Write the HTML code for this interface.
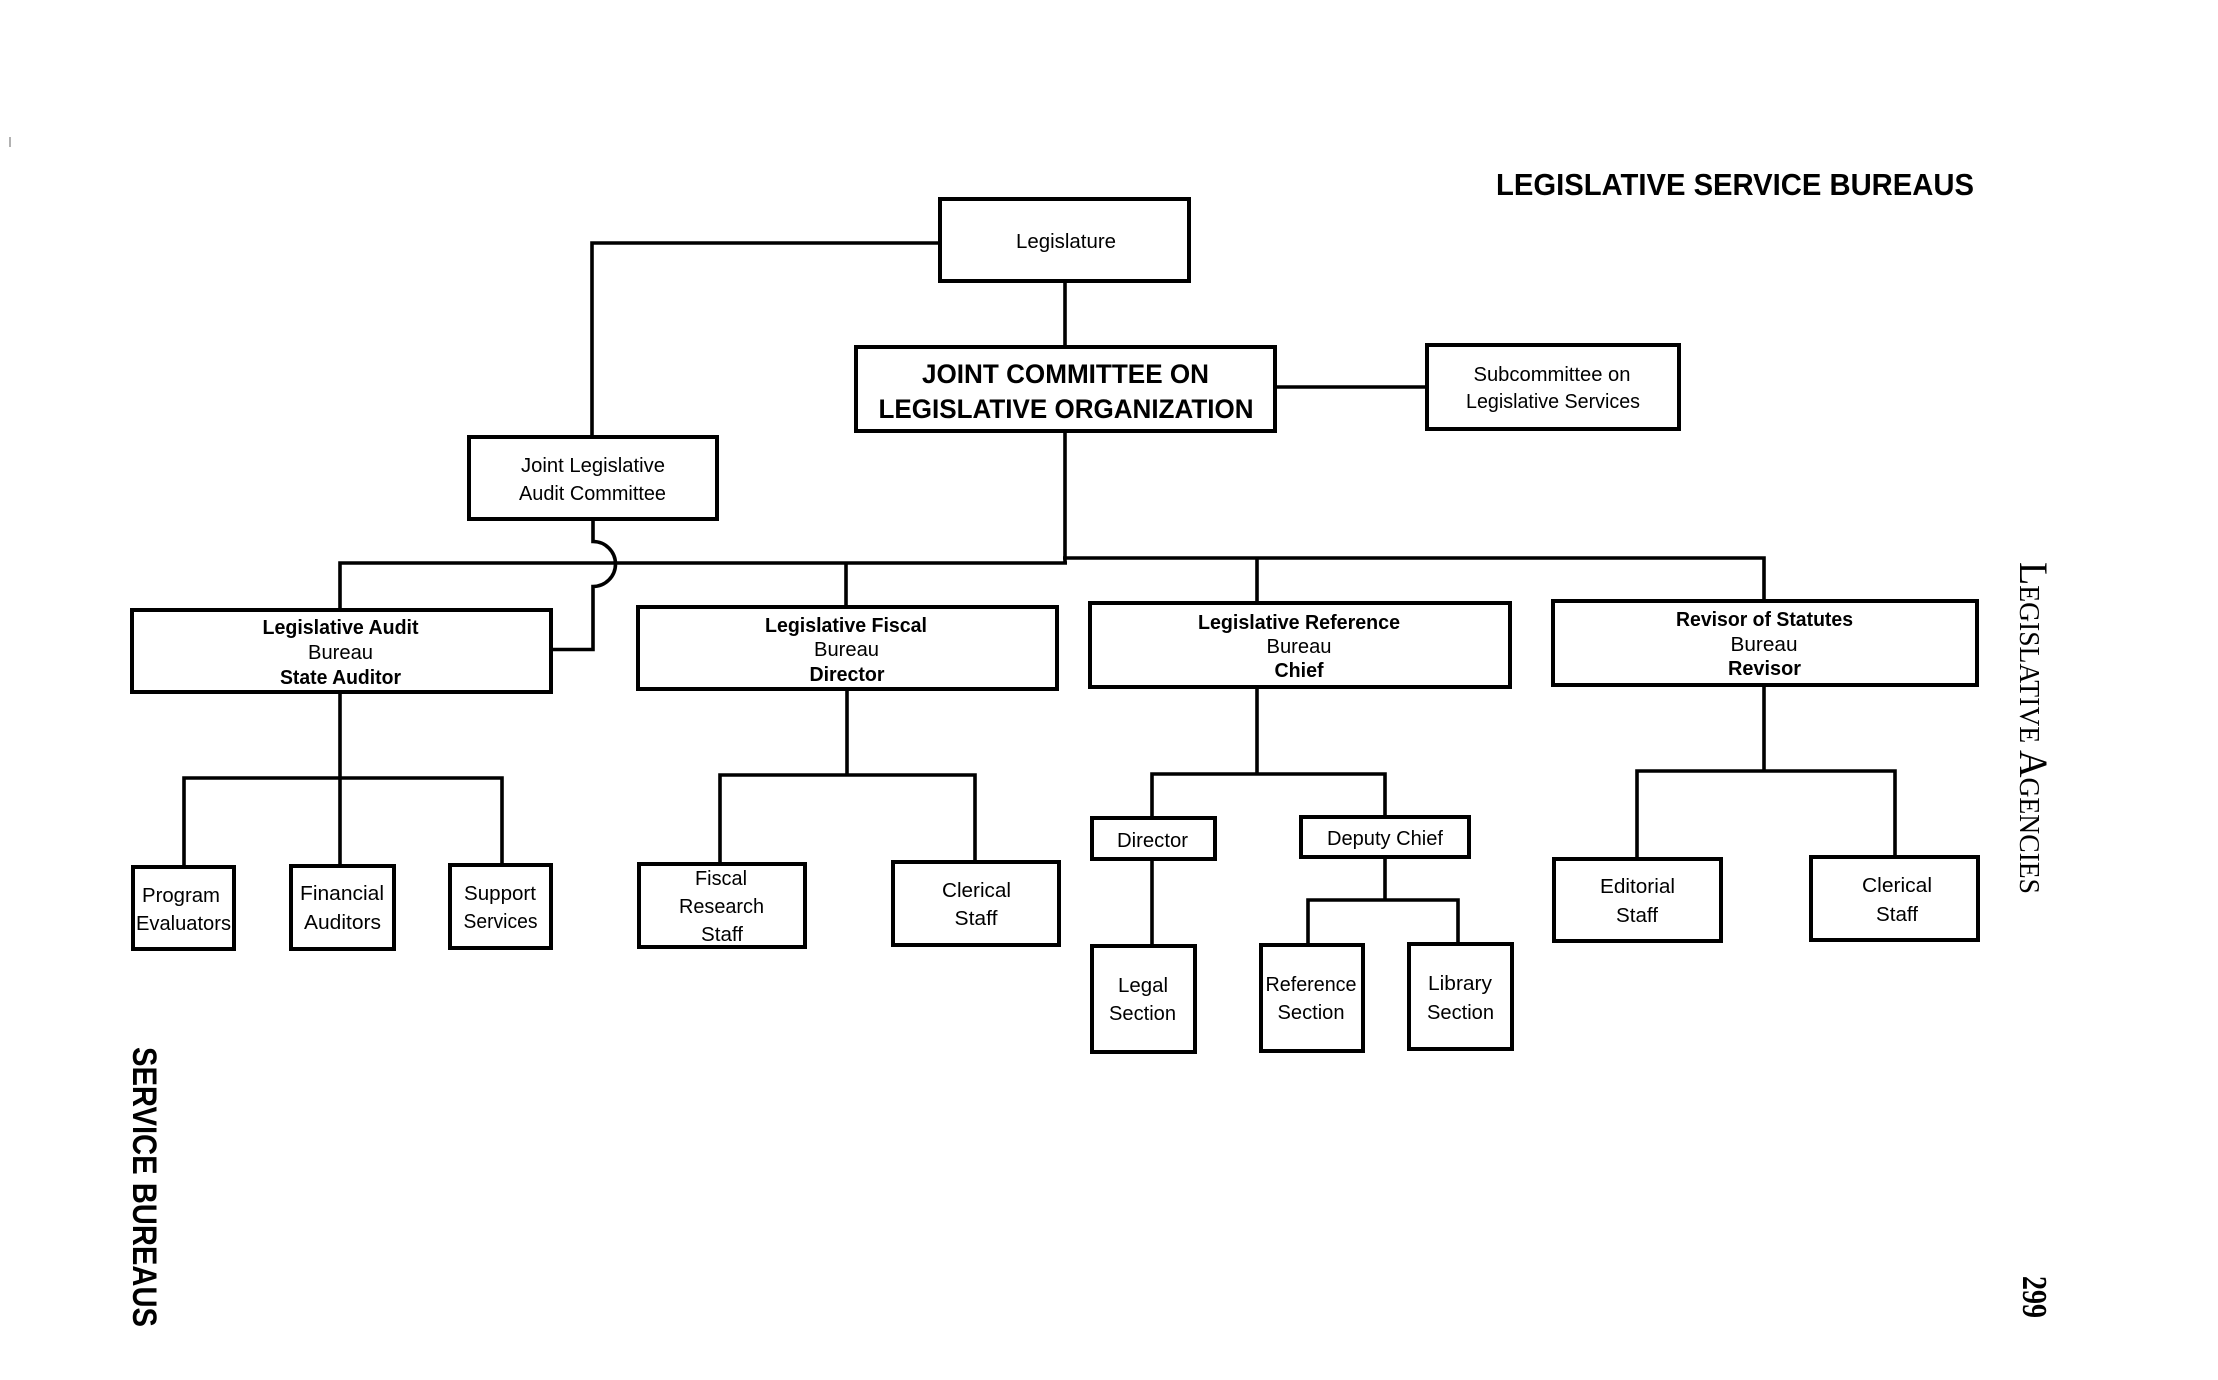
<!DOCTYPE html>
<html>
<head>
<meta charset="utf-8">
<style>
  html, body { margin: 0; padding: 0; background: #ffffff; }
  body { width: 2218px; height: 1380px; overflow: hidden; }
  svg { display: block; }
  text { font-family: "Liberation Sans", Arial, sans-serif; fill: #000; }
  .r { font-size: 20px; }
  .b { font-size: 20px; font-weight: bold; }
  .serif { font-family: "Liberation Serif", "Times New Roman", serif; }
</style>
</head>
<body>
<svg width="2218" height="1380" viewBox="0 0 2218 1380" xmlns="http://www.w3.org/2000/svg">
  <rect x="0" y="0" width="2218" height="1380" fill="#ffffff"/>

  <!-- connectors -->
  <g fill="none" stroke="#000" stroke-width="3.6" stroke-linejoin="miter" stroke-linecap="butt">
    <path d="M1065 283 V347"/>
    <path d="M940 243 H592 V437"/>
    <path d="M1277 387 H1427"/>
    <path d="M593 521 V541.5 A22.5 22.5 0 0 1 593 586.5 V649.5 H551"/>
    <path d="M340 610 V563 H1067"/>
    <path d="M1065 433 V563"/>
    <path d="M1063 558 H1764 V601"/>
    <path d="M846 563 V607"/>
    <path d="M1257 558 V603"/>
    <!-- audit subtree -->
    <path d="M340 692 V866"/>
    <path d="M184 867 V778 H502 V865"/>
    <!-- fiscal subtree -->
    <path d="M847 689 V775"/>
    <path d="M720 864 V775 H975 V862"/>
    <!-- reference subtree -->
    <path d="M1257 687 V774"/>
    <path d="M1152 818 V774 H1385 V817"/>
    <path d="M1152 859 V946"/>
    <path d="M1385 857 V900"/>
    <path d="M1308 945 V900 H1458 V944"/>
    <!-- revisor subtree -->
    <path d="M1764 685 V771"/>
    <path d="M1637 859 V771 H1895 V857"/>
  </g>

  <!-- boxes -->
  <g fill="#fff" stroke="#000" stroke-width="4">
    <rect x="940" y="199" width="249" height="82"/>
    <rect x="856" y="347" width="419" height="84"/>
    <rect x="1427" y="345" width="252" height="84"/>
    <rect x="469" y="437" width="248" height="82"/>
    <rect x="132" y="610" width="419" height="82"/>
    <rect x="638" y="607" width="419" height="82"/>
    <rect x="1090" y="603" width="420" height="84"/>
    <rect x="1553" y="601" width="424" height="84"/>
    <rect x="133" y="867" width="101" height="82"/>
    <rect x="291" y="866" width="103" height="83"/>
    <rect x="450" y="865" width="101" height="83"/>
    <rect x="639" y="864" width="166" height="83"/>
    <rect x="893" y="862" width="166" height="83"/>
    <rect x="1092" y="818" width="123" height="41"/>
    <rect x="1301" y="817" width="168" height="40"/>
    <rect x="1092" y="946" width="103" height="106"/>
    <rect x="1261" y="945" width="102" height="106"/>
    <rect x="1409" y="944" width="103" height="105"/>
    <rect x="1554" y="859" width="167" height="82"/>
    <rect x="1811" y="857" width="167" height="83"/>
  </g>

  <!-- title -->
  <text x="1735" y="195" font-size="31" font-weight="bold" text-anchor="middle" textLength="478" lengthAdjust="spacingAndGlyphs">LEGISLATIVE SERVICE BUREAUS</text>

  <!-- top nodes -->
  <text class="r" x="1066" y="248" text-anchor="middle" textLength="100" lengthAdjust="spacingAndGlyphs">Legislature</text>
  <text x="1065.5" y="383" font-size="27" font-weight="bold" text-anchor="middle" textLength="287" lengthAdjust="spacingAndGlyphs">JOINT COMMITTEE ON</text>
  <text x="1066" y="418" font-size="27" font-weight="bold" text-anchor="middle" textLength="375" lengthAdjust="spacingAndGlyphs">LEGISLATIVE ORGANIZATION</text>
  <text class="r" x="1552" y="381" text-anchor="middle" textLength="157" lengthAdjust="spacingAndGlyphs">Subcommittee on</text>
  <text class="r" x="1553" y="408" text-anchor="middle" textLength="174" lengthAdjust="spacingAndGlyphs">Legislative Services</text>
  <text class="r" x="593" y="472" text-anchor="middle" textLength="144" lengthAdjust="spacingAndGlyphs">Joint Legislative</text>
  <text class="r" x="592.5" y="500" text-anchor="middle" textLength="147" lengthAdjust="spacingAndGlyphs">Audit Committee</text>

  <!-- bureaus -->
  <text class="b" x="340.5" y="634" text-anchor="middle" textLength="156" lengthAdjust="spacingAndGlyphs">Legislative Audit</text>
  <text class="r" x="340.5" y="659" text-anchor="middle" textLength="65" lengthAdjust="spacingAndGlyphs">Bureau</text>
  <text class="b" x="340.5" y="684" text-anchor="middle" textLength="121" lengthAdjust="spacingAndGlyphs">State Auditor</text>

  <text class="b" x="846" y="632" text-anchor="middle" textLength="162" lengthAdjust="spacingAndGlyphs">Legislative Fiscal</text>
  <text class="r" x="846.5" y="656" text-anchor="middle" textLength="65" lengthAdjust="spacingAndGlyphs">Bureau</text>
  <text class="b" x="847" y="681" text-anchor="middle" textLength="75" lengthAdjust="spacingAndGlyphs">Director</text>

  <text class="b" x="1299" y="629" text-anchor="middle" textLength="202" lengthAdjust="spacingAndGlyphs">Legislative Reference</text>
  <text class="r" x="1299" y="653" text-anchor="middle" textLength="65" lengthAdjust="spacingAndGlyphs">Bureau</text>
  <text class="b" x="1299" y="677" text-anchor="middle" textLength="49" lengthAdjust="spacingAndGlyphs">Chief</text>

  <text class="b" x="1764.5" y="626" text-anchor="middle" textLength="177" lengthAdjust="spacingAndGlyphs">Revisor of Statutes</text>
  <text class="r" x="1764" y="651" text-anchor="middle" textLength="67" lengthAdjust="spacingAndGlyphs">Bureau</text>
  <text class="b" x="1764.5" y="675" text-anchor="middle" textLength="73" lengthAdjust="spacingAndGlyphs">Revisor</text>

  <!-- audit leaves -->
  <text class="r" x="181" y="902" text-anchor="middle" textLength="78" lengthAdjust="spacingAndGlyphs">Program</text>
  <text class="r" x="183.5" y="930" text-anchor="middle" textLength="95" lengthAdjust="spacingAndGlyphs">Evaluators</text>
  <text class="r" x="342" y="900" text-anchor="middle" textLength="84" lengthAdjust="spacingAndGlyphs">Financial</text>
  <text class="r" x="342.5" y="929" text-anchor="middle" textLength="77" lengthAdjust="spacingAndGlyphs">Auditors</text>
  <text class="r" x="500" y="900" text-anchor="middle" textLength="72" lengthAdjust="spacingAndGlyphs">Support</text>
  <text class="r" x="500.5" y="928" text-anchor="middle" textLength="74" lengthAdjust="spacingAndGlyphs">Services</text>

  <!-- fiscal leaves -->
  <text class="r" x="721" y="885" text-anchor="middle" textLength="52" lengthAdjust="spacingAndGlyphs">Fiscal</text>
  <text class="r" x="721.5" y="913" text-anchor="middle" textLength="85" lengthAdjust="spacingAndGlyphs">Research</text>
  <text class="r" x="722" y="941" text-anchor="middle" textLength="42" lengthAdjust="spacingAndGlyphs">Staff</text>
  <text class="r" x="976.5" y="897" text-anchor="middle" textLength="69" lengthAdjust="spacingAndGlyphs">Clerical</text>
  <text class="r" x="976" y="925" text-anchor="middle" textLength="43" lengthAdjust="spacingAndGlyphs">Staff</text>

  <!-- reference leaves -->
  <text class="r" x="1152.5" y="847" text-anchor="middle" textLength="71" lengthAdjust="spacingAndGlyphs">Director</text>
  <text class="r" x="1385" y="845" text-anchor="middle" textLength="116" lengthAdjust="spacingAndGlyphs">Deputy Chief</text>
  <text class="r" x="1143" y="992" text-anchor="middle" textLength="50" lengthAdjust="spacingAndGlyphs">Legal</text>
  <text class="r" x="1142.5" y="1020" text-anchor="middle" textLength="67" lengthAdjust="spacingAndGlyphs">Section</text>
  <text class="r" x="1311" y="991" text-anchor="middle" textLength="91" lengthAdjust="spacingAndGlyphs">Reference</text>
  <text class="r" x="1311" y="1019" text-anchor="middle" textLength="67" lengthAdjust="spacingAndGlyphs">Section</text>
  <text class="r" x="1460" y="990" text-anchor="middle" textLength="64" lengthAdjust="spacingAndGlyphs">Library</text>
  <text class="r" x="1460.5" y="1019" text-anchor="middle" textLength="67" lengthAdjust="spacingAndGlyphs">Section</text>

  <!-- revisor leaves -->
  <text class="r" x="1637.5" y="893" text-anchor="middle" textLength="75" lengthAdjust="spacingAndGlyphs">Editorial</text>
  <text class="r" x="1637" y="922" text-anchor="middle" textLength="42" lengthAdjust="spacingAndGlyphs">Staff</text>
  <text class="r" x="1897" y="892" text-anchor="middle" textLength="70" lengthAdjust="spacingAndGlyphs">Clerical</text>
  <text class="r" x="1897" y="921" text-anchor="middle" textLength="42" lengthAdjust="spacingAndGlyphs">Staff</text>

  <!-- vertical page texts -->
  <text transform="translate(133,1047) rotate(90)" x="0" y="0" font-size="34" font-weight="bold" textLength="280" lengthAdjust="spacingAndGlyphs">SERVICE BUREAUS</text>
  <text class="serif" transform="translate(2020,562) rotate(90)" x="0" y="0" textLength="332" lengthAdjust="spacingAndGlyphs"><tspan font-size="40">L</tspan><tspan font-size="29">EGISLATIVE </tspan><tspan font-size="40">A</tspan><tspan font-size="29">GENCIES</tspan></text>
  <text class="serif" transform="translate(2023,1276) rotate(90)" x="0" y="0" font-size="35" font-weight="bold" textLength="42" lengthAdjust="spacingAndGlyphs">299</text>

  <!-- faint scan marks -->
  <line x1="10" y1="137" x2="10" y2="147" stroke="#999" stroke-width="1.5"/>
</svg>
</body>
</html>
